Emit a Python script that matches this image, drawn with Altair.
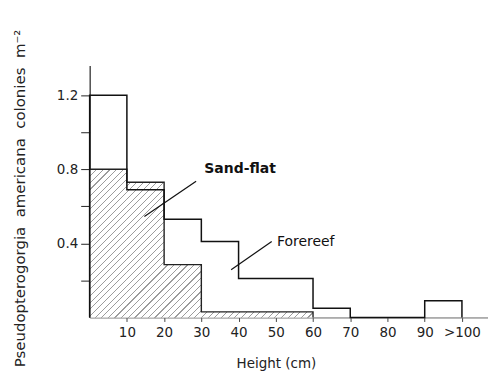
import altair as alt
import pandas as pd

# ---- data ----
bin_edges = [0, 10, 20, 30, 40, 50, 60, 70, 80, 90, 100]
forereef = [1.20, 0.69, 0.53, 0.41, 0.21, 0.21, 0.05, 0.0, 0.0, 0.09]
sandflat = [0.80, 0.73, 0.285, 0.03, 0.03, 0.03, 0.0, 0.0, 0.0, 0.0]

x_ticks = [10, 20, 30, 40, 50, 60, 70, 80, 90, 100]
x_tick_labels = ["10", "20", "30", "40", "50", "60", "70", "80", "90", ">100"]
y_ticks = [0.2, 0.4, 0.6, 0.8, 1.0, 1.2]
y_tick_labels = ["0.4", "0.8", "1.2"]

label_text = ["Sand-flat", "Forereef"]
label_x = [30.8, 50.3]
label_y = [0.80, 0.405]
label_weight = ["bold", "normal"]

pointer_x = [28.6, 48.9]
pointer_x2 = [14.7, 38.0]
pointer_y = [0.735, 0.41]
pointer_y2 = [0.545, 0.258]

X_MAX = 107
Y_MAX = 1.36
W, H = 400, 253


def step_points(values, trim=False):
    vals = list(values)
    n = len(vals)
    if trim:
        while n > 0 and vals[n - 1] == 0:
            n -= 1
    pts = [(bin_edges[0], 0.0)]
    for i in range(n):
        pts.append((bin_edges[i], vals[i]))
    if vals[n - 1] != 0:
        pts.append((bin_edges[n], vals[n - 1]))
    pts.append((bin_edges[n], 0.0))
    return pd.DataFrame({"x": [p[0] for p in pts], "y": [p[1] for p in pts],
                         "i": list(range(len(pts)))})


fore_df = step_points(forereef)
sand_df = step_points(sandflat, trim=True)

xs = alt.Scale(domain=[0, X_MAX], nice=False, zero=True)
ys = alt.Scale(domain=[0, Y_MAX], nice=False, zero=True)

# hatch pattern approximated with a striped linear gradient
sand_max = max(sandflat)
last_nonzero = max(i for i, v in enumerate(sandflat) if v > 0) + 1
bw = bin_edges[last_nonzero] / X_MAX * W
bh = sand_max / Y_MAX * H
N = 58
frac = 0.17
hatch_col = "#9c9c9c"
stops = []
for k in range(N):
    a = k / N
    b = (k + frac) / N
    stops += [alt.GradientStop(offset=a, color="#ffffff"),
              alt.GradientStop(offset=a, color=hatch_col),
              alt.GradientStop(offset=b, color=hatch_col),
              alt.GradientStop(offset=b, color="#ffffff")]
stops.append(alt.GradientStop(offset=1, color="#ffffff"))
gx2 = 1.2
gy2 = gx2 * bh / bw
hatch = alt.LinearGradient(gradient="linear", stops=stops, x1=0, y1=0, x2=gx2, y2=gy2)

label_expr_y = "indexof(" + str(y_tick_labels) + ", datum.label) >= 0 ? datum.label : ''"
label_expr_x = "{" + ",".join(f"'{v}':'{l}'" for v, l in zip(x_ticks, x_tick_labels)) + "}[datum.value]"

gap = "\u00a0 "
y_title = "Pseudopterogorgia" + gap + "americana" + gap + "colonies" + gap + "m\u207b\u00b2"

x_axis = alt.Axis(values=x_ticks, labelExpr=label_expr_x, grid=False,
                  domainColor="#666666", domainWidth=1, tickColor="#444444", tickSize=4,
                  tickWidth=1, labelFont="DejaVu Sans", labelFontSize=13.5, labelColor="#222222",
                  labelPadding=4, title="Height (cm)", titleFont="DejaVu Sans",
                  titleFontSize=13.5, titleFontWeight="normal", titleColor="#222222",
                  titleX=187, titleY=46, titleAnchor="middle", titleAlign="center",
                  titleBaseline="middle")
y_axis = alt.Axis(values=y_ticks, format=".1f", labelExpr=label_expr_y, grid=False,
                  domainColor="#222222", domainWidth=1.2, tickColor="#222222", tickSize=9,
                  tickWidth=1, labelFont="DejaVu Sans", labelFontSize=13.5, labelColor="#222222",
                  labelPadding=3,
                  title=y_title,
                  titleFont="DejaVu Sans", titleFontSize=15, titleFontWeight="normal",
                  titleColor="#222222", titleAngle=270, titleX=-70, titleY=133,
                  titleAlign="center", titleBaseline="middle")

sand_area = alt.Chart(sand_df).mark_area(interpolate="step-after", fill=hatch).encode(
    x=alt.X("x:Q", scale=xs, axis=x_axis),
    y=alt.Y("y:Q", scale=ys, axis=y_axis),
    order="i:Q",
)
sand_line = alt.Chart(sand_df).mark_line(interpolate="step-after", color="#222222",
                                          strokeWidth=1.4).encode(
    x=alt.X("x:Q", scale=xs), y=alt.Y("y:Q", scale=ys), order="i:Q")
fore_line = alt.Chart(fore_df).mark_line(interpolate="step-after", color="#111111",
                                         strokeWidth=1.5).encode(
    x=alt.X("x:Q", scale=xs), y=alt.Y("y:Q", scale=ys), order="i:Q")

lab_df = pd.DataFrame({"t": label_text, "x": label_x, "y": label_y, "w": label_weight})
labels_bold = alt.Chart(lab_df[lab_df.w == "bold"]).mark_text(
    align="left", baseline="middle", font="DejaVu Sans", fontSize=14, fontWeight="bold",
    color="#111111").encode(x=alt.X("x:Q", scale=xs), y=alt.Y("y:Q", scale=ys), text="t:N")
labels_norm = alt.Chart(lab_df[lab_df.w == "normal"]).mark_text(
    align="left", baseline="middle", font="DejaVu Sans", fontSize=14,
    color="#111111").encode(x=alt.X("x:Q", scale=xs), y=alt.Y("y:Q", scale=ys), text="t:N")

ptr_df = pd.DataFrame({"x": pointer_x, "x2": pointer_x2, "y": pointer_y, "y2": pointer_y2})
pointers = alt.Chart(ptr_df).mark_rule(color="#111111", strokeWidth=1.2).encode(
    x=alt.X("x:Q", scale=xs), x2="x2:Q", y=alt.Y("y:Q", scale=ys), y2="y2:Q")

chart = alt.layer(sand_area, sand_line, fore_line, pointers, labels_bold, labels_norm).properties(
    width=W, height=H,
    autosize=alt.AutoSizeParams(type="none"),
    padding={"left": 82, "top": 57, "right": 0, "bottom": 53},
    background="white",
).configure_view(stroke=None)

chart.save("out.html", embed_options={"renderer": "svg", "actions": False})
